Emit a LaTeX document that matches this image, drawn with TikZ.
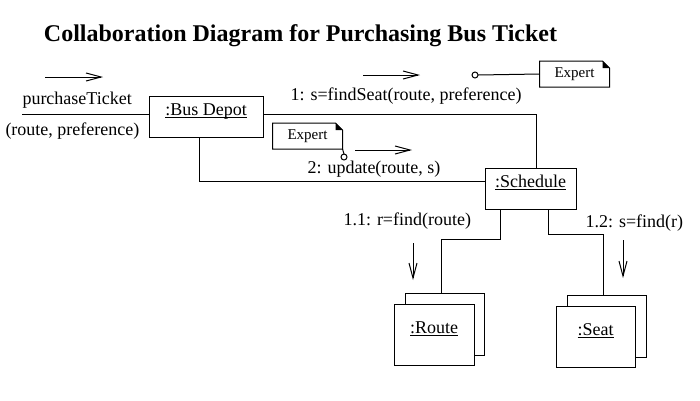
\documentclass[tikz,border=0pt]{standalone}
\usepackage{fontspec}
\setmainfont{Liberation Serif}
\usetikzlibrary{positioning}
\usetikzlibrary{arrows.meta}

\newcommand{\objlabel}[1]{\underline{\smash{#1}}}

\tikzset{
  obj/.style={draw,fill=white,inner sep=0pt,font=\fontsize{18}{20}\selectfont},
  lbl/.style={inner sep=0pt,anchor=base west,font=\fontsize{18}{20}\selectfont},
  msg/.style={-{Straight Barb[length=15pt,width=8pt]}},
  notetxt/.style={inner sep=0pt,minimum width=69pt,minimum height=25pt,font=\fontsize{15}{17}\selectfont},
}

\begin{document}
\begin{tikzpicture}[x=1pt,y=-1pt,line width=1pt]
				\useasboundingbox (0,0) rectangle (700,400);
				\node[font=\bfseries\fontsize{24}{28}\selectfont](title) at (300.5,36){Collaboration Diagram for Purchasing Bus Ticket};

				\node[obj,minimum width=114pt,minimum height=41pt](depot) at (206,116.5){\objlabel{:Bus Depot}};
				\node[obj,minimum width=91pt,minimum height=41pt](sched) at (530.5,188.5){\objlabel{:Schedule}};
				\node[obj,minimum width=79pt,minimum height=62pt](routeb) at (444.5,324){};
				\node[obj,minimum width=80pt,minimum height=61pt](route) at (434,334.5){\objlabel{:Route}};
				\node[obj,minimum width=79pt,minimum height=62pt](seatb) at (606.5,326){};
				\node[obj,minimum width=79pt,minimum height=61pt](seat) at (595.5,336.5){\objlabel{:Seat}};

				\node[notetxt](note1) at (574.5,74){Expert};
				\node[notetxt](note2) at (307.5,136){Expert};

				\node[lbl](purchlbl) at (22,104){purchaseTicket};
				\node[lbl](purchargs) at (5,135){(route, preference)};
				\node[lbl](msg1) at (290,100){1: s=findSeat(route, preference)};
				\node[lbl](msg2) at (307,173){2: update(route, s)};
				\node[lbl](msg11) at (343,225){1.1: r=find(route)};
				\node[lbl](msg12) at (585,227){1.2: s=find(r)};

				\coordinate (purch) at (22,114);
				\coordinate (c1) at (536,114);
				\coordinate (c2) at (199,181);
				\coordinate (c3) at (500,239);
				\coordinate (c4) at (441,239);
				\coordinate (c5) at (548,234);
				\coordinate (c6) at (603,234);
				\coordinate (k1) at (475,75);
				\coordinate (k2) at (344,157);

				% links
				\draw (purch) -- (purch -| depot.west);
				\draw (purch -| depot.east) -| (c1 |- sched.north);
				\draw (c2 |- depot.south) |- (c2 -| sched.west);
				\draw (c3 |- sched.south) -- (c3) -- (c4) -- (c4 |- routeb.north);
				\draw (c5 |- sched.south) -- (c5) -- (c6) -- (c6 |- seatb.north);

				% message arrows
				\draw[msg] (45,77) -- (103,77);
				\draw[msg] (363,75) -- (420,75);
				\draw[msg] (355,150) -- (412,150);
				\draw[msg] (413,243) -- (413,280);
				\draw[msg] (623,240) -- (623,278);

				% notes
				\foreach \n in {note1,note2}{
					\draw (\n.south west) -- (\n.north west) -- ([xshift=-7pt]\n.north east) -- ([yshift=-7pt]\n.north east) -- (\n.south east) -- cycle;
					\fill ([xshift=-7pt]\n.north east) -- ([xshift=-7pt,yshift=-7pt]\n.north east) -- ([yshift=-7pt]\n.north east) -- cycle;
				}
				\draw (note1.west) -- ([xshift=3pt]k1);
				\draw (k1) circle (3pt);
				\draw (note2.south east) -- ([yshift=3pt]k2);
				\draw (k2) circle (3pt);
			\end{tikzpicture}
\end{document}
